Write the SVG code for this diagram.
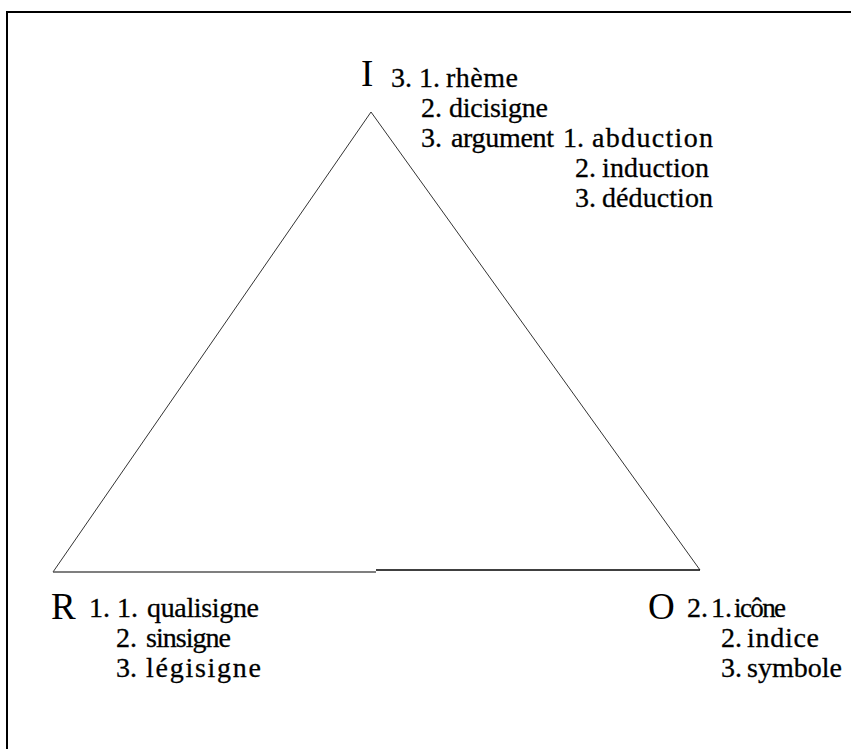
<svg xmlns="http://www.w3.org/2000/svg" width="851" height="749" viewBox="0 0 851 749">
<style>
.big{font-family:"Liberation Serif","Times New Roman",serif;font-size:37px;fill:#000}
.t{font-family:"Liberation Serif","Times New Roman",serif;font-size:28px;fill:#000;stroke:#000;stroke-width:0.3}
.side{stroke:#333;stroke-width:1;fill:none}
</style>
<rect width="851" height="749" fill="#fff"/>
<polyline points="7,749 7,12 851,12" fill="none" stroke="#000" stroke-width="2"/>
<g id="connectors">
<line class="side" x1="53" y1="572" x2="371" y2="112"/>
<line class="side" x1="371" y1="112" x2="700" y2="570"/>
<line x1="53" y1="572" x2="376" y2="572" stroke="#555" stroke-width="1.5"/>
<line x1="376" y1="570" x2="700" y2="570" stroke="#000" stroke-width="1.5"/>
</g>
<g id="node-I">
<text class="big" x="361" y="86">I</text>
<text class="t" x="391" y="87">3.</text>
<text class="t" x="419" y="87">1.</text>
<text class="t" x="446" y="87" textLength="72" lengthAdjust="spacing">rhème</text>
<text class="t" x="421" y="117">2.</text>
<text class="t" x="449" y="117" textLength="99" lengthAdjust="spacing">dicisigne</text>
<text class="t" x="421" y="147">3.</text>
<text class="t" x="451" y="147" textLength="103" lengthAdjust="spacing">argument</text>
<text class="t" x="563" y="147">1.</text>
<text class="t" x="592" y="147" textLength="121" lengthAdjust="spacing">abduction</text>
<text class="t" x="575" y="177">2.</text>
<text class="t" x="602" y="177" textLength="107" lengthAdjust="spacing">induction</text>
<text class="t" x="575" y="207">3.</text>
<text class="t" x="602" y="207" textLength="111" lengthAdjust="spacing">déduction</text>
</g>
<g id="node-R">
<text class="big" x="51" y="619">R</text>
<text class="t" x="89" y="617">1.</text>
<text class="t" x="117" y="617">1.</text>
<text class="t" x="147" y="617" textLength="112" lengthAdjust="spacing">qualisigne</text>
<text class="t" x="116" y="647">2.</text>
<text class="t" x="146" y="647" textLength="85" lengthAdjust="spacing">sinsigne</text>
<text class="t" x="116" y="677">3.</text>
<text class="t" x="146" y="677" textLength="115" lengthAdjust="spacing">légisigne</text>
</g>
<g id="node-O">
<text class="big" x="648" y="619">O</text>
<text class="t" x="687" y="617">2.</text>
<text class="t" x="711" y="617">1.</text>
<text class="t" x="734" y="617" style="font-size:27px" textLength="52" lengthAdjust="spacing">icône</text>
<text class="t" x="721" y="647">2.</text>
<text class="t" x="747" y="647" textLength="72" lengthAdjust="spacing">indice</text>
<text class="t" x="721" y="677">3.</text>
<text class="t" x="747" y="677" textLength="95" lengthAdjust="spacing">symbole</text>
</g>
</svg>
